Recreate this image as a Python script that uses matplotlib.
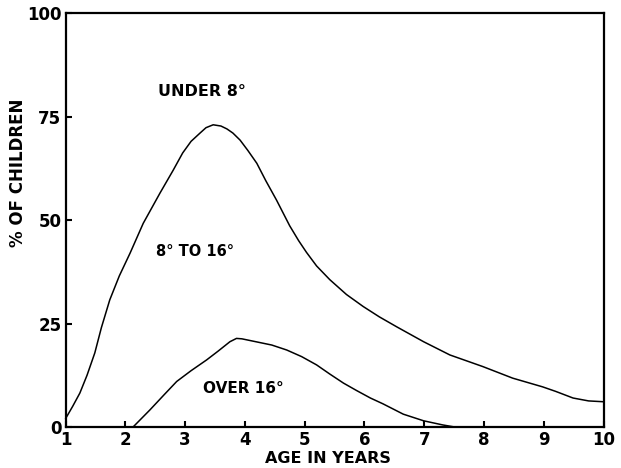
import matplotlib
matplotlib.use("Agg")
import matplotlib.pyplot as plt

# Data
upper_x = [1.0, 1.12, 1.24, 1.36, 1.49, 1.6, 1.74, 1.9, 2.08, 2.3, 2.58, 2.8, 2.96,
           3.1, 3.25, 3.35, 3.47, 3.6, 3.7, 3.8, 3.92, 4.05, 4.2, 4.35, 4.53, 4.75,
           4.9, 5.03, 5.2, 5.42, 5.7, 5.98, 6.25, 6.54, 6.99, 7.43, 7.98, 8.48,
           8.98, 9.2, 9.49, 9.75, 10.0]
upper_y = [2.0, 5.0, 8.2, 12.5, 17.9, 24.0, 30.7, 36.5, 42.0, 49.2, 56.5, 62.0, 66.2,
           69.0, 71.0, 72.3, 73.0, 72.7, 72.0, 71.0, 69.3, 66.8, 63.7, 59.5, 54.8, 48.6,
           45.0, 42.2, 38.9, 35.6, 32.0, 29.1, 26.6, 24.2, 20.6, 17.4, 14.6, 11.8,
           9.7, 8.6, 7.0, 6.3, 6.1]
lower_x = [2.13, 2.41, 2.65, 2.86, 3.1, 3.36, 3.55, 3.75, 3.86, 3.95, 4.05, 4.45,
           4.7, 4.95, 5.2, 5.42, 5.65, 5.87, 6.1, 6.31, 6.65, 6.99, 7.31, 7.51]
lower_y = [0.0, 4.1, 7.8, 11.0, 13.6, 16.2, 18.3, 20.6, 21.4, 21.3, 21.0, 19.8,
           18.6, 17.0, 15.0, 12.8, 10.6, 8.8, 7.0, 5.6, 3.1, 1.5, 0.5, 0.0]

x_ticks = [1, 2, 3, 4, 5, 6, 7, 8, 9, 10]
y_ticks = [0, 25, 50, 75, 100]

region_labels = ["UNDER 8°", "8° TO 16°", "OVER 16°"]
region_pos = [(3.28, 81.0), (3.17, 42.5), (3.98, 9.2)]

plt.rcParams['font.family'] = ['DejaVu Sans']
fig = plt.figure(figsize=(6.21, 4.68), dpi=100)
ax = fig.add_axes([0.1055, 0.0876, 0.8664, 0.8846])

ax.plot(upper_x, upper_y, color='black', lw=1.1, clip_on=False,
        solid_joinstyle='round', solid_capstyle='round')
ax.plot(lower_x, lower_y, color='black', lw=1.1, clip_on=False,
        solid_joinstyle='round', solid_capstyle='round')

ax.set_xlim(1, 10)
ax.set_ylim(0, 100)
ax.set_xticks(x_ticks)
ax.set_yticks(y_ticks)
ax.set_xticklabels([str(t) for t in x_ticks], fontsize=12, fontweight='bold')
ax.set_yticklabels([str(t) for t in y_ticks], fontsize=12, fontweight='bold')
ax.tick_params(axis='both', direction='in', length=4, width=1.5, color='black')
ax.tick_params(axis='y', pad=3)
ax.tick_params(axis='x', pad=3)
for s in ax.spines.values():
    s.set_linewidth(1.6)
    s.set_color('black')

sizes = [11.5, 10.5, 11]
for lab, (px, py), fs in zip(region_labels, region_pos, sizes):
    ax.text(px, py, lab, ha='center', va='center', fontsize=fs, fontweight='bold')

ax.set_xlabel("AGE IN YEARS", fontsize=11.5, fontweight='bold')
ax.xaxis.set_label_coords(0.488, -0.058)
ax.set_ylabel("% OF CHILDREN", fontsize=12, fontweight='bold', va='center')
ax.yaxis.set_label_coords(-0.088, 0.614)

fig.savefig("out.png", dpi=100)
